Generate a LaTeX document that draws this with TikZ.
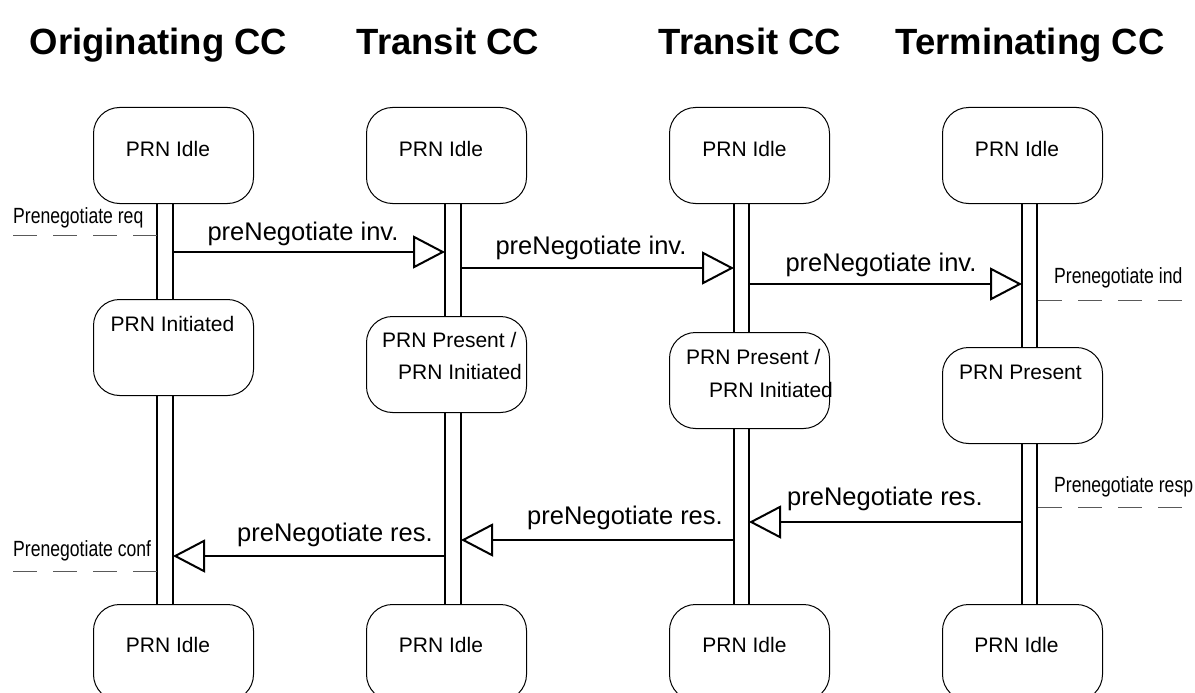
\documentclass[tikz,border=0pt]{standalone}
\usepackage{fontspec}
\setmainfont{Liberation Sans}
\newfontfamily\narrowfont[FakeStretch=0.8]{Liberation Sans}
\usetikzlibrary{arrows.meta}
\begin{document}
\begin{tikzpicture}[x=1pt,y=-1pt,
  statebox/.style={draw, line width=1pt, rounded corners=26pt, fill=white,
    minimum width=160pt, minimum height=96pt, anchor=north west, inner sep=0pt},
  statetxt/.style={font=\fontsize{21}{25}\selectfont, inner sep=0pt, anchor=base},
  header/.style={font=\fontsize{36.5}{40}\selectfont\bfseries, inner sep=0pt, anchor=base},
  life/.style={line width=2pt},
  msg/.style={line width=2pt, -{Triangle[open, length=32pt, width=33pt]}},
  msgtxt/.style={font=\fontsize{25.5}{30}\selectfont, inner sep=0pt, anchor=base},
  sidetxt/.style={font=\narrowfont\fontsize{22}{26}\selectfont, inner sep=0pt, anchor=base west},
  sideline/.style={line width=1pt, black!65, dash pattern=on 24pt off 16pt}
]
\useasboundingbox (0,0) rectangle (1195,693);
\clip (0,0) rectangle (1195,693);

% headers
\node[header] (h1) at (158.5,55) {Originating CC};
\node[header] (h2) at (448,55) {Transit CC};
\node[header] (h3) at (750,55) {Transit CC};
\node[header] (h4) at (1030,55) {Terminating CC};

% lifelines
\draw[life] (157,150) -- (157,650);
\draw[life] (173,150) -- (173,650);
\draw[life] (445,150) -- (445,650);
\draw[life] (461,150) -- (461,650);
\draw[life] (734,150) -- (734,650);
\draw[life] (749,150) -- (749,650);
\draw[life] (1022,150) -- (1022,650);
\draw[life] (1037,150) -- (1037,650);

% state boxes
\node[statebox] (a1) at (93,107) {};
\node[statebox] (a2) at (93,299) {};
\node[statebox] (a3) at (93,604) {};
\node[statebox] (b1) at (366,107) {};
\node[statebox] (b2) at (366,316) {};
\node[statebox] (b3) at (366,604) {};
\node[statebox] (c1) at (669,107) {};
\node[statebox] (c2) at (669,332) {};
\node[statebox] (c3) at (669,604) {};
\node[statebox] (d1) at (942,107) {};
\node[statebox] (d2) at (942,347) {};
\node[statebox] (d3) at (942,604) {};

% state texts
\node[statetxt] (ta1) at (168,156) {PRN Idle};
\node[statetxt] (tb1) at (441,156) {PRN Idle};
\node[statetxt] (tc1) at (744.5,156) {PRN Idle};
\node[statetxt] (td1) at (1017,156) {PRN Idle};
\node[statetxt] (ta2) at (172.5,331.5) {PRN Initiated};
\node[statetxt, anchor=base west] (tb2a) at (382,347.5) {PRN Present /};
\node[statetxt, anchor=base west] (tb2b) at (398,379.5) {PRN Initiated};
\node[statetxt, anchor=base west] (tc2a) at (686,364.5) {PRN Present /};
\node[statetxt, anchor=base west] (tc2b) at (709,397.5) {PRN Initiated};
\node[statetxt] (td2) at (1020.5,379.5) {PRN Present};
\node[statetxt] (ta3) at (168,652.5) {PRN Idle};
\node[statetxt] (tb3) at (441,652.5) {PRN Idle};
\node[statetxt] (tc3) at (744.5,652.5) {PRN Idle};
\node[statetxt] (td3) at (1016.5,652.5) {PRN Idle};

% message end points
\coordinate (m1s) at (173,252);  \coordinate (m1e) at (445,252);
\coordinate (m2s) at (461,268);  \coordinate (m2e) at (734,268);
\coordinate (m3s) at (749,284);  \coordinate (m3e) at (1022,284);
\coordinate (m4s) at (1022,522); \coordinate (m4e) at (749,522);
\coordinate (m5s) at (734,540);  \coordinate (m5e) at (461,540);
\coordinate (m6s) at (445,556);  \coordinate (m6e) at (173,556);

\draw[msg] (m1s) -- (m1e);
\draw[msg] (m2s) -- (m2e);
\draw[msg] (m3s) -- (m3e);
\draw[msg] (m4s) -- (m4e);
\draw[msg] (m5s) -- (m5e);
\draw[msg] (m6s) -- (m6e);

\node[msgtxt] (l1) at (303,240) {preNegotiate inv.};
\node[msgtxt] (l2) at (591,254) {preNegotiate inv.};
\node[msgtxt] (l3) at (881,271) {preNegotiate inv.};
\node[msgtxt] (l4) at (885,505) {preNegotiate res.};
\node[msgtxt] (l5) at (625,524) {preNegotiate res.};
\node[msgtxt] (l6) at (335,541) {preNegotiate res.};

% side primitives
\coordinate (s1a) at (13,235);   \coordinate (s1b) at (157,235);
\coordinate (s2a) at (1038,300); \coordinate (s2b) at (1182,300);
\coordinate (s3a) at (1038,507); \coordinate (s3b) at (1182,507);
\coordinate (s4a) at (13,571);   \coordinate (s4b) at (157,571);
\draw[sideline] (s1a) -- (s1b);
\draw[sideline] (s2a) -- (s2b);
\draw[sideline] (s3a) -- (s3b);
\draw[sideline] (s4a) -- (s4b);
\node[sidetxt] (p1) at (13,223) {Prenegotiate req};
\node[sidetxt] (p2) at (1054,283) {Prenegotiate ind};
\node[sidetxt] (p3) at (1054,492) {Prenegotiate resp};
\node[sidetxt] (p4) at (13,556) {Prenegotiate conf};
\end{tikzpicture}
\end{document}
